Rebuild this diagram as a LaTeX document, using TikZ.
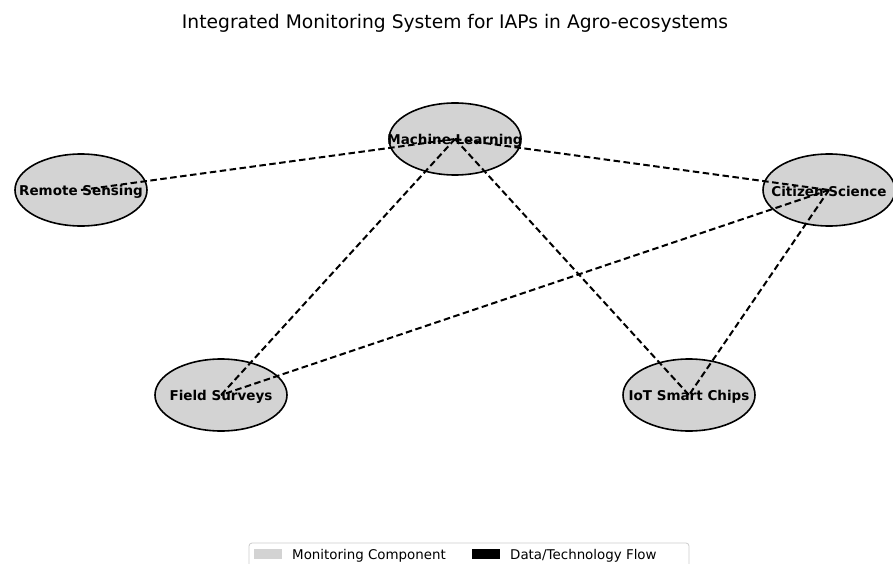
\documentclass[tikz,border=0pt]{standalone}
\usepackage{fontspec}
\setmainfont{DejaVu Sans}
\usetikzlibrary{shapes.geometric}
\definecolor{nodegray}{RGB}{211,211,211}
\begin{document}
\begin{tikzpicture}[x=1pt,y=-1pt,
  comp/.style={ellipse,draw=black,line width=1.6pt,fill=nodegray,minimum width=132pt,minimum height=72pt,inner sep=0pt},
  lbl/.style={font=\bfseries\fontsize{13.5}{15}\selectfont,yshift=-1.5pt},
  flow/.style={line width=2pt,dash pattern=on 6.5pt off 3.5pt}]
\useasboundingbox (0,0) rectangle (893,564);
\clip (0,0) rectangle (893,564);
\node[font=\fontsize{18.7}{22}\selectfont] (title) at (455,23.5) {Integrated Monitoring System for IAPs in Agro-ecosystems};
\node[comp] (ml) at (455,139) {};
\node[comp] (rs) at (81,190) {};
\node[comp] (cs) at (829,190) {};
\node[comp] (fs) at (221,395) {};
\node[comp] (iot) at (689,395) {};
\node[lbl] at (ml) {Machine Learning};
\node[lbl] at (rs) {Remote Sensing};
\node[lbl] at (cs) {Citizen Science};
\node[lbl] at (fs) {Field Surveys};
\node[lbl] at (iot) {IoT Smart Chips};
\draw[flow] (rs.center) -- (ml.center);
\draw[flow] (ml.center) -- (cs.center);
\draw[flow] (ml.center) -- (fs.center);
\draw[flow] (ml.center) -- (iot.center);
\draw[flow] (cs.center) -- (fs.center);
\draw[flow] (cs.center) -- (iot.center);
% legend
\draw[draw=black!20,line width=0.8pt,fill=white,rounded corners=3pt] (249,543) rectangle (689,575);
\fill[nodegray] (254,549) rectangle (282,559);
\node[anchor=west,font=\fontsize{13.4}{16}\selectfont,inner sep=0pt] (leg1) at (292,555.5) {Monitoring Component};
\fill[black] (472,549) rectangle (500,559);
\node[anchor=west,font=\fontsize{13.4}{16}\selectfont,inner sep=0pt] (leg2) at (510,555.5) {Data/Technology Flow};
\end{tikzpicture}
\end{document}
